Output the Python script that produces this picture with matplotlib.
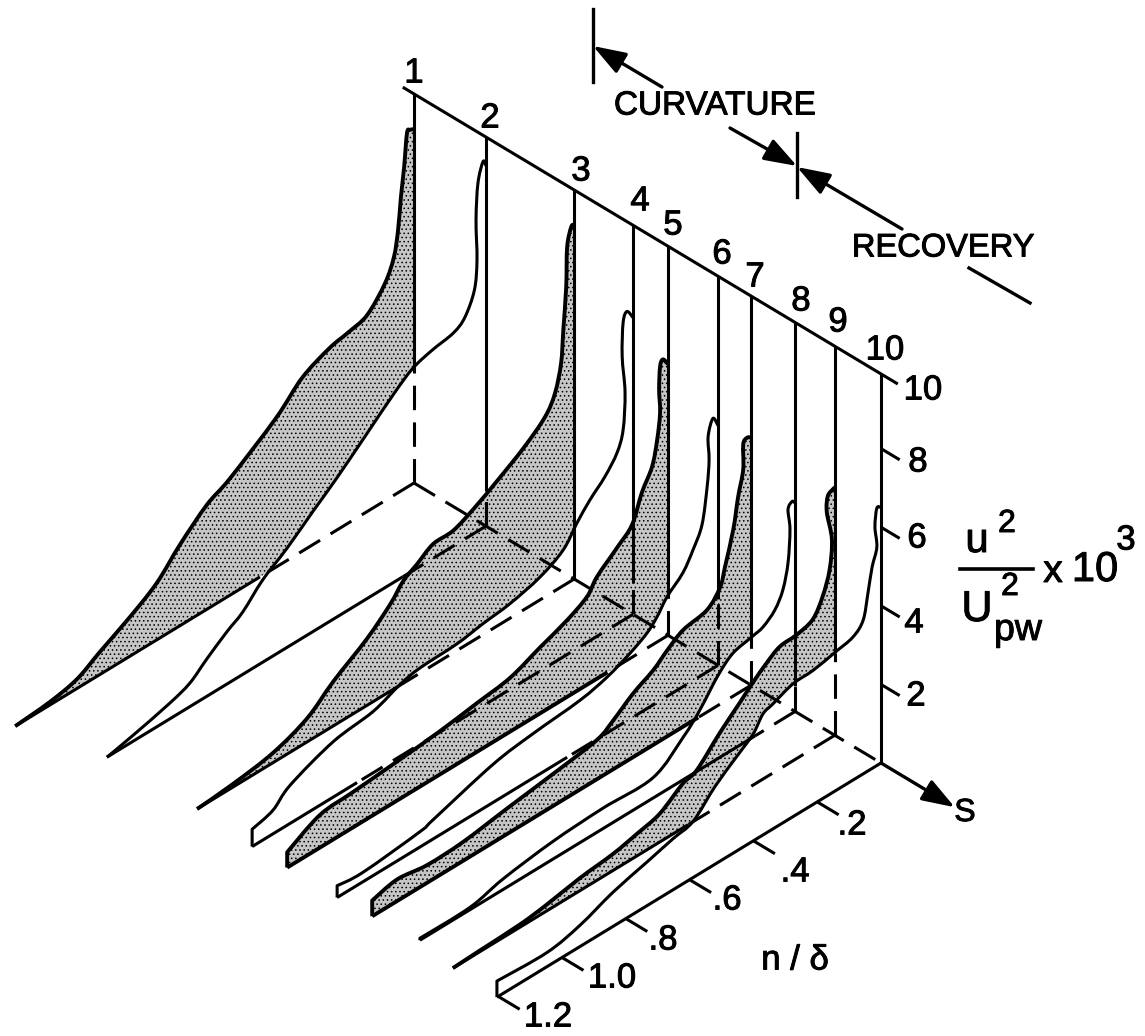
import matplotlib
matplotlib.use("Agg")
import matplotlib.pyplot as plt
import matplotlib.patheffects as pe
from matplotlib.patches import PathPatch
from matplotlib.path import Path
import numpy as np

plt.rcParams["font.family"] = ["Liberation Sans", "DejaVu Sans"]
plt.rcParams["hatch.linewidth"] = 0.6

# station positions along s, and the label of each
station_s = [0, 1.54, 3.43, 4.69, 5.44, 6.51, 7.22, 8.16, 9.01, 10.0]
station_labels = ["1", "2", "3", "4", "5", "6", "7", "8", "9", "10"]

# profiles: n/delta and u^2/Upw^2 x 10^3
n1 = [0, .013, .022, .031, .041, .05, .063, .091, .147, .207, .266, .351, .433, .577, .649, .734, .806, .89, .984, 1.056, 1.141, 1.25]
u1 = [9.0, 9.05, 9.01, 8.19, 7.48, 6.68, 6.06, 5.53, 5.0, 4.85, 4.74, 4.41, 3.79, 2.97, 2.66, 2.06, 1.45, 1.0, .58, .24, .08, 0]
n2 = [0, .009, .025, .031, .028, .036, .066, .102, .169, .229, .288, .373, .467, .542, .624, .699, .762, .812, .875, .928, .991, 1.107, 1.188]
u2 = [9.17, 9.32, 8.85, 7.95, 6.91, 6.19, 5.64, 5.42, 5.31, 5.15, 4.80, 4.20, 3.54, 3.06, 2.52, 2.10, 1.59, 1.33, .95, .6, .4, .15, 0]
n3 = [0, .009, .022, .025, .034, .041, .06, .091, .157, .24, .312, .379, .442, .492, .536, .577, .649, .755, .837, .944, 1.069, 1.182]
u3 = [9.0, 9.01, 8.56, 7.56, 6.51, 5.70, 5.03, 4.58, 4.13, 3.70, 3.36, 3.11, 3.08, 2.82, 2.60, 2.21, 1.70, 1.13, .6, .25, .08, 0]
n4 = [0, .019, .031, .034, .025, .031, .05, .088, .135, .176, .219, .292, .386, .47, .552, .668, .73, .815, .94, 1.075, 1.129, 1.194]
u4 = [7.55, 7.80, 7.58, 6.73, 5.77, 4.85, 4.36, 3.94, 3.58, 3.19, 2.72, 2.39, 2.18, 2.09, 1.98, 1.94, 1.83, 1.56, 1.41, .97, .60, .44]
n5 = [0, .016, .025, .028, .025, .034, .05, .082, .113, .16, .223, .254, .317, .401, .495, .599, .715, .84, .987, 1.091, 1.194]
u5 = [6.9, 7.10, 6.96, 6.39, 5.79, 5.15, 4.54, 4.04, 3.37, 3.02, 2.59, 2.24, 1.95, 1.68, 1.37, 1.24, 1.10, 1.00, .90, .83, .39]
n6 = [0, .016, .031, .028, .034, .05, .078, .11, .16, .191, .223, .276, .348, .433, .58, .705, .893, .934, 1.113, 1.194]
u6 = [6.1, 6.36, 5.97, 5.37, 4.72, 3.83, 3.33, 2.90, 2.53, 2.18, 1.92, 1.67, 1.42, 1.25, 1.13, .97, .49, .39, .24, .30]
n7 = [0, .013, .025, .025, .041, .056, .082, .097, .138, .213, .263, .307, .37, .433, .483, .608, .765, .903, 1.016, 1.11, 1.188]
u7 = [6.3, 6.36, 6.25, 5.61, 4.99, 4.24, 3.42, 2.98, 2.60, 2.46, 2.19, 1.90, 1.62, 1.24, 1.00, .83, .65, .48, .45, .55, .40]
n8 = [0, .009, .022, .016, .022, .038, .063, .1, .135, .194, .235, .266, .304, .351, .445, .602, .759, .915, 1.019, 1.176]
u8 = [5.3, 5.39, 5.25, 4.71, 3.90, 3.29, 2.90, 2.65, 2.57, 2.45, 2.17, 1.86, 1.46, 1.08, .52, .52, .45, .27, .06, .05]
n9 = [0, .006, .022, .025, .009, .016, .038, .069, .119, .172, .213, .257, .298, .361, .433, .476, .549, .621, .696, .799, .903, .987, 1.113, 1.197]
u9 = [6.3, 6.29, 6.19, 5.80, 5.03, 4.30, 3.72, 3.29, 3.15, 3.11, 2.90, 2.61, 2.30, 1.84, 1.25, 1.13, .72, .56, .42, .32, .16, .07, .03, 0]
n10 = [0, .013, .019, .013, .028, .041, .056, .088, .144, .213, .276, .339, .37, .401, .451, .52, .589, .652, .734, .84, .944, 1.047, 1.204]
u10 = [6.5, 6.55, 6.10, 5.56, 5.12, 4.52, 3.91, 3.64, 3.53, 3.41, 3.38, 3.18, 3.08, 2.72, 2.41, 1.98, 1.43, 1.30, 1.11, .87, .54, .36, .41]

profiles_n = [n1, n2, n3, n4, n5, n6, n7, n8, n9, n10]
profiles_u = [u1, u2, u3, u4, u5, u6, u7, u8, u9, u10]
shaded = [True, False, True, False, True, False, True, False, True, False]
heavy_floor = [False, False, False, False, True, False, True, False, False, False]

# where each wall and floor line stops being hidden
wall_hidden_u = [2.8, .9, 0, .8, 1.04, 1.68, 1.25, .64, 2.1, 0]
floor_hidden_n = [.483, .26, .545, .865, .19, .473, .166, .125, .46, 0]

u_ticks = [2, 4, 6, 8, 10]
n_ticks = [.2, .4, .6, .8, 1.0, 1.2]
n_tick_labels = [".2", ".4", ".6", ".8", "1.0", "1.2"]
TOP_U = 9.9

LW = 2.2
LW_SHADED = 2.8
DASH = (0, (8, 4))
INK = [pe.withStroke(linewidth=0.7, foreground="black")]


def project(s, n, u):
    s, n, u = np.asarray(s, float), np.asarray(n, float), np.asarray(u, float)
    x = 414 + 46.7 * s - 319 * n
    y = 483 + 28.0 * s + 194.5 * n - 39.3 * u
    return x, y


def line(s, n, u, lw=LW, zorder=50, **kw):
    x, y = project(s, n, u)
    ax.plot(x, y, color="black", lw=lw, zorder=zorder, solid_capstyle="butt",
            solid_joinstyle="round", **kw)


def bezier_through(x, y):
    # vertices and codes of a smooth curve through the read points
    p = np.column_stack([x, y])
    verts, codes = [], []
    for i in range(len(p) - 1):
        before = p[max(i - 1, 0)]
        after = p[min(i + 2, len(p) - 1)]
        verts += [p[i] + (p[i + 1] - before) / 6, p[i + 1] - (after - p[i]) / 6, p[i + 1]]
        codes += [Path.CURVE4] * 3
    return verts, codes


def label(x, y, t, size=25, **kw):
    ax.text(x, y, t, fontsize=size, ha="center", va="center", zorder=60,
            path_effects=INK, **kw)


fig = plt.figure(figsize=(11.45, 10.36))
ax = fig.add_axes([0, 0, 1, 1])
ax.set_xlim(0, 1145)
ax.set_ylim(1036, 0)
ax.axis("off")

# profiles, back to front, each one hides what is behind it
for i, s in enumerate(station_s):
    n = np.array(profiles_n[i])
    u = np.array(profiles_u[i])
    z = 10 + i
    x, y = project(np.full(len(n), s), n, u)
    bx, by = project(s, 0, 0)
    ex, ey = project(s, n[-1], 0)
    verts, codes = bezier_through(x, y)

    fill_path = Path([(bx, by), (x[0], y[0])] + verts + [(ex, ey), (bx, by)],
                     [Path.MOVETO, Path.LINETO] + codes + [Path.LINETO, Path.CLOSEPOLY])
    if shaded[i]:
        ax.add_patch(PathPatch(fill_path, facecolor="#c6c6c6", edgecolor="black",
                               hatch="....", linewidth=0, zorder=z))
    else:
        ax.add_patch(PathPatch(fill_path, facecolor="white", edgecolor="none", zorder=z))

    curve_path = Path([(x[0], y[0])] + verts + [(ex, ey)],
                      [Path.MOVETO] + codes + [Path.LINETO])
    ax.add_patch(PathPatch(curve_path, fill=False, edgecolor="black", zorder=z + .5,
                           linewidth=LW_SHADED if shaded[i] else LW, joinstyle="round"))

# walls and floor lines go on top
for i, s in enumerate(station_s):
    n_end = profiles_n[i][-1]
    line([s, s], [0, 0], [wall_hidden_u[i], TOP_U])
    if wall_hidden_u[i] > 0:
        line([s, s], [0, 0], [0, wall_hidden_u[i]], linestyle=DASH)
    line([s, s], [floor_hidden_n[i], n_end], [0, 0],
         lw=LW_SHADED if heavy_floor[i] else LW)
    if floor_hidden_n[i] > 0:
        line([s, s], [0, floor_hidden_n[i]], [0, 0], linestyle=DASH)

# line joining the stations at the wall, top line
line([0, 10], [0, 0], [0, 0], linestyle=DASH)
line([-.24, 10.36], [0, 0], [TOP_U, TOP_U])

# u axis ticks, the top line is the tick for 10
for t in u_ticks[:-1]:
    line([10, 10.4], [0, 0], [t, t])
u_label_xy = [(916, 696), (914, 623), (917, 538), (918, 462), (923, 390)]
for t, (x, y) in zip(u_ticks, u_label_xy):
    label(x, y, str(t))

# n axis ticks
for t in n_ticks:
    line([10, 10.46], [t, t], [0, 0])
n_label_xy = [(852, 825), (795, 872), (727, 900), (663, 940), (612, 978), (548, 1017)]
for t, (x, y) in zip(n_tick_labels, n_label_xy):
    label(x, y, t)

# station numbers
station_label_xy = [(414, 73), (490, 118), (581, 171), (640, 201), (673, 225),
                    (722, 254), (755, 277), (801, 301), (838, 322), (885, 350)]
for t, (x, y) in zip(station_labels, station_label_xy):
    label(x, y, t)


def arrow(start, end):
    ax.annotate("", xy=end, xytext=start, zorder=60,
                arrowprops=dict(arrowstyle="-|>,head_length=20,head_width=7",
                                mutation_scale=1, shrinkA=0, shrinkB=0,
                                lw=2.4, color="black"))


# s axis
sx, sy = project([10, 11.58], [0, 0], [0, 0])
arrow((sx[0], sy[0]), (sx[1], sy[1]))
label(965, 813, "S", size=23)

# curvature / recovery markers
ax.plot([593, 593], [9, 82], color="black", lw=2.4)
ax.plot([797, 797], [133, 197], color="black", lw=2.4)
arrow((662, 87), (593, 46))
arrow((730, 128), (797, 166))
arrow((902, 229), (797, 167))
ax.plot([969, 1030], [268, 303], color="black", lw=2.4)
label(715, 106, "CURVATURE", size=24)
label(943, 248, "RECOVERY", size=23.5)

# axis titles
label(795, 960, "n / δ", size=25)
ax.plot([960, 1033], [569, 569], color="black", lw=2.6)
label(977, 541, "u", size=30)
label(1007, 524, "2", size=23)
label(977, 610, "U", size=31)
label(1010, 587, "2", size=23)
label(1018, 630, "pw", size=27)
label(1053, 572, "x", size=28)
label(1095, 570, "10", size=30)
label(1126, 540, "3", size=25)

fig.savefig("out.png", dpi=100)
plt.close(fig)
